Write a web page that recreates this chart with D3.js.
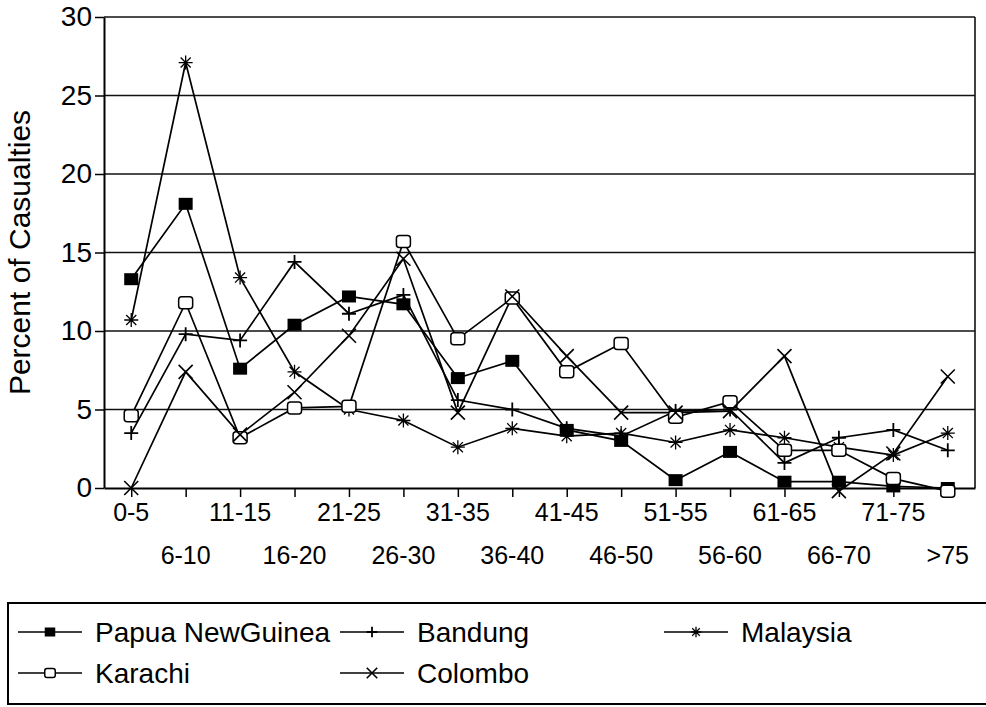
<!DOCTYPE html>
<html>
<head>
<meta charset="utf-8">
<script src="https://cdn.jsdelivr.net/npm/d3@7"></script>
<style>
  body { margin: 0; background: #fff; }
  svg { display: block; font-family: "Liberation Sans", Arial, sans-serif; }
</style>
</head>
<body>
<div id="chart"></div>
<script>
const categories = ["0-5", "6-10", "11-15", "16-20", "21-25", "26-30", "31-35", "36-40",
  "41-45", "46-50", "51-55", "56-60", "61-65", "66-70", "71-75", ">75"];

const papua = [13.3, 18.1, 7.6, 10.4, 12.2, 11.7, 7.0, 8.1, 3.7, 3.0, 0.5, 2.3, 0.4, 0.4, 0.1, 0.0];
const bandung = [3.5, 9.8, 9.4, 14.4, 11.1, 12.3, 5.6, 5.0, 3.8, 3.3, 4.9, 5.0, 1.6, 3.2, 3.7, 2.4];
const malaysia = [10.7, 27.1, 13.4, 7.4, 5.0, 4.3, 2.6, 3.8, 3.3, 3.5, 2.9, 3.7, 3.2, 2.6, 2.1, 3.5];
const karachi = [4.6, 11.8, 3.2, 5.1, 5.2, 15.7, 9.5, 12.1, 7.4, 9.2, 4.5, 5.5, 2.4, 2.4, 0.6, -0.2];
const colombo = [0.0, 7.4, 3.4, 6.1, 9.7, 14.6, 4.8, 12.2, 8.4, 4.8, 4.8, 4.9, 8.4, -0.2, 2.2, 7.1];

const yTicks = [0, 5, 10, 15, 20, 25, 30];

const width = 986;
const height = 707;
const margin = { top: 17, right: 11, bottom: 219, left: 104 };

const svg = d3.select("#chart").append("svg")
  .attr("width", width)
  .attr("height", height);

const xScale = d3.scalePoint()
  .domain(categories)
  .range([margin.left, width - margin.right])
  .padding(0.5);

const yScale = d3.scaleLinear()
  .domain([0, 30])
  .range([height - margin.bottom, margin.top]);

// gridlines
svg.append("g")
  .selectAll("line")
  .data(yTicks.filter((d) => d > 0))
  .enter()
  .append("line")
  .attr("x1", margin.left)
  .attr("x2", width - margin.right)
  .attr("y1", (d) => yScale(d))
  .attr("y2", (d) => yScale(d))
  .attr("stroke", "#111")
  .attr("stroke-width", 1.6);

// right border
svg.append("line")
  .attr("x1", width - margin.right)
  .attr("x2", width - margin.right)
  .attr("y1", yScale(30))
  .attr("y2", yScale(0))
  .attr("stroke", "#111")
  .attr("stroke-width", 1.6);

// y axis
const yAxis = d3.axisLeft(yScale)
  .tickValues(yTicks)
  .tickSize(9)
  .tickPadding(3)
  .tickSizeOuter(0);

svg.append("g")
  .attr("class", "y-axis")
  .attr("transform", `translate(${margin.left},0)`)
  .call(yAxis)
  .call((g) => g.select(".domain").attr("stroke-width", 2))
  .call((g) => g.selectAll(".tick line").attr("stroke-width", 1.5))
  .call((g) => g.selectAll("text").attr("font-size", 28).attr("fill", "#000"));

// x axis
const xAxis = d3.axisBottom(xScale)
  .tickSize(9)
  .tickSizeOuter(0)
  .tickFormat("");

svg.append("g")
  .attr("class", "x-axis")
  .attr("transform", `translate(0,${yScale(0)})`)
  .call(xAxis)
  .call((g) => g.select(".domain").attr("stroke-width", 2))
  .call((g) => g.selectAll(".tick line").attr("stroke-width", 1.5));

svg.append("g")
  .selectAll("text")
  .data(categories)
  .enter()
  .append("text")
  .attr("x", (d) => xScale(d))
  .attr("y", (d, i) => (i % 2 === 0 ? 521 : 564))
  .attr("text-anchor", "middle")
  .attr("font-size", 25)
  .text((d) => d);

// y label
svg.append("text")
  .attr("transform", `translate(30,${(yScale(0) + yScale(30)) / 2}) rotate(-90)`)
  .attr("text-anchor", "middle")
  .attr("font-size", 30)
  .text("Percent of Casualties");

// markers
const drawMarker = (g, type, s) => {
  const h = 7 * s;
  if (type === "filled") {
    g.append("rect").attr("x", -h).attr("y", -6 * s).attr("width", 2 * h).attr("height", 12 * s)
      .attr("fill", "#000");
  } else if (type === "open") {
    g.append("rect").attr("x", -h).attr("y", -6 * s).attr("width", 2 * h).attr("height", 12 * s)
      .attr("rx", 3 * s).attr("fill", "#fff").attr("stroke", "#000").attr("stroke-width", 1.5);
  } else if (type === "plus") {
    g.append("path").attr("d", `M${-h},0H${h}M0,${-h}V${h}`)
      .attr("stroke", "#000").attr("stroke-width", 1.8);
  } else if (type === "cross") {
    g.append("path").attr("d", `M${-h},${-h}L${h},${h}M${-h},${h}L${h},${-h}`)
      .attr("stroke", "#000").attr("stroke-width", 1.6);
  } else if (type === "star") {
    const k = h * 0.72;
    g.append("path")
      .attr("d", `M${-h},0H${h}M0,${-h}V${h}M${-k},${-k}L${k},${k}M${-k},${k}L${k},${-k}`)
      .attr("stroke", "#000").attr("stroke-width", 1.3);
  }
};

const series = [
  { name: "Papua NewGuinea", values: papua, marker: "filled" },
  { name: "Bandung", values: bandung, marker: "plus" },
  { name: "Malaysia", values: malaysia, marker: "star" },
  { name: "Karachi", values: karachi, marker: "open" },
  { name: "Colombo", values: colombo, marker: "cross" },
];

const line = d3.line()
  .x((d, i) => xScale(categories[i]))
  .y((d) => yScale(d));

series.forEach((s) => {
  svg.append("path")
    .datum(s.values)
    .attr("fill", "none")
    .attr("stroke", "#000")
    .attr("stroke-width", 1.7)
    .attr("d", line);
});

series.forEach((s) => {
  s.values.forEach((v, i) => {
    const g = svg.append("g")
      .attr("transform", `translate(${xScale(categories[i])},${yScale(v)})`);
    drawMarker(g, s.marker, 1);
  });
});

// legend
const legend = svg.append("g").attr("class", "legend");

legend.append("rect")
  .attr("x", 8)
  .attr("y", 603)
  .attr("width", 1000)
  .attr("height", 101)
  .attr("fill", "none")
  .attr("stroke", "#000")
  .attr("stroke-width", 2);

const legendPos = {
  "Papua NewGuinea": [18, 632],
  "Bandung": [340, 632],
  "Malaysia": [664, 632],
  "Karachi": [18, 673],
  "Colombo": [340, 673],
};

series.forEach((s) => {
  const [lx, ly] = legendPos[s.name];
  const item = legend.append("g").attr("transform", `translate(${lx},${ly})`);
  item.append("line")
    .attr("x1", 0).attr("x2", 64)
    .attr("y1", 0).attr("y2", 0)
    .attr("stroke", "#000").attr("stroke-width", 1.6);
  const m = item.append("g").attr("transform", "translate(32,0)");
  drawMarker(m, s.marker, 0.75);
  item.append("text")
    .attr("x", 77)
    .attr("y", 10)
    .attr("font-size", 28)
    .text(s.name);
});
</script>
</body>
</html>
